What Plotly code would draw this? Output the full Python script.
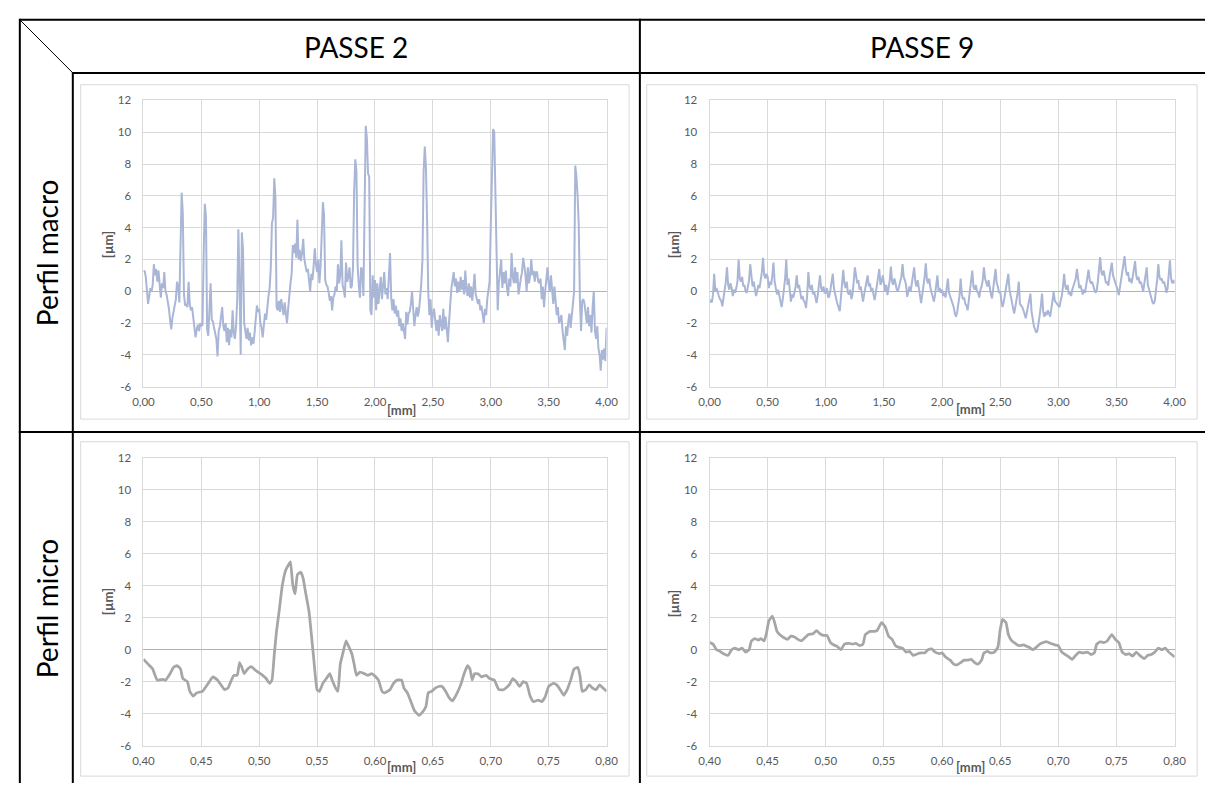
import plotly.graph_objects as go

W, H = 1217, 789

# ---------------- data ----------------
macro_x = [round(i * 0.01, 2) for i in range(401)]

passe2_macro = [
    1.2, 1.3, 0.9, -0.2, -0.8, -0.3, 0.2, 0.0, 0.4, 1.7,
    1.0, 1.4, 0.6, 1.3, 0.3, -0.4, 0.5, 0.2, 1.2, 0.0,
    -0.2, -0.6, -1.1, -1.8, -2.4, -1.7, -1.3, -1.0, -0.5, 0.6,
    0.3, -0.7, 3.4, 6.2, 4.9, -0.2, -0.9, -0.8, -1.0, 0.6,
    -0.8, -1.2, -1.0, -1.6, -2.4, -2.9, -2.4, -2.1, -2.5, -2.0,
    -2.2, -2.1, 2.3, 5.5, 4.7, -2.4, -2.8, -1.5, 0.5, -1.8,
    -1.9, -2.3, -2.8, -3.0, -4.1, -2.5, -2.2, -1.6, -1.0, -2.2,
    -2.5, -2.0, -3.2, -2.3, -3.4, -2.4, -2.9, -1.2, -2.6, -3.0,
    -2.2, -0.5, 3.9, 0.5, -4.0, 3.7, 2.6, -2.0, -2.4, -3.0,
    -2.3, -3.1, -2.6, -3.4, -2.9, -3.3, -2.6, -1.4, -0.9, -1.3,
    -1.1, -2.0, -2.3, -2.9, -2.0, -1.4, -1.8, -0.8, -0.3, 0.2,
    1.5, 4.3, 4.6, 7.1, 5.9, -1.0, -1.2, -0.6, -1.3, -0.5,
    -1.0, -1.5, -0.7, -1.4, -2.0, -1.1, -0.1, 0.5, 1.1, 2.9,
    2.4, 3.0, 2.1, 4.5, 2.0, 2.6, 1.9, 2.4, 3.3, 2.0,
    1.6, 1.2, 1.4, 0.4, 0.0, 1.1, 0.7, 1.6, 2.7, 1.7,
    1.2, 2.0, 0.5, 1.6, 3.8, 5.6, 4.8, 0.7, 0.4, 0.3,
    -0.1, -0.6, -0.3, -1.2, -0.4, -0.2, 0.3, 0.0, 1.7, 0.5,
    1.0, 3.2, 0.4, 0.1, -0.4, 1.8, 0.6, 0.9, 1.5, 0.2,
    0.3, 1.5, 6.3, 8.3, 7.5, 1.6, 0.4, -0.4, 1.5, 1.3,
    -0.3, 6.5, 10.4, 9.6, 7.4, 7.2, -1.2, -1.5, 1.0, -0.4,
    0.7, -1.2, 0.5, -0.8, 0.4, 0.9, -0.5, 0.3, 1.2, -0.2,
    0.2, -0.5, 1.5, 2.4, -0.4, -1.2, -0.5, -1.4, -0.9, -1.6,
    -1.2, -2.2, -1.7, -2.5, -2.0, -2.6, -3.0, -1.3, -2.1, -1.4,
    -1.3, -0.8, 0.0, -1.1, -2.2, -1.5, -1.0, -1.6, -1.2, -0.4,
    0.5, 2.0, 7.5, 9.1, 7.8, 4.5, 0.0, -1.5, -0.5, -2.3,
    -1.4, -1.1, -1.9, -2.5, -1.8, -2.8, -1.5, -2.0, -2.5, -1.1,
    -2.4, -1.6, -2.7, -3.2, -1.9, -0.6, 0.2, 0.7, 1.2, 0.3,
    0.8, -0.1, 0.6, 0.0, 0.9, 0.1, 0.7, -0.2, 1.3, 0.1,
    -0.3, 0.5, -0.4, 0.3, -0.6, 0.2, 1.1, -0.2, -0.6, -0.8,
    -0.5, -1.2, -0.9, -1.5, -2.0, -1.1, -1.5, -0.5, 0.2, 0.6,
    4.0, 8.5, 10.2, 10.0, 6.5, 1.0, -1.2, 0.5, 1.5, 2.0,
    0.2, 1.2, 0.5, 1.3, 0.2, -0.3, 0.8, 0.3, 2.4, 0.9,
    0.5, 1.5, 0.5, 1.2, -0.2, 0.5, 0.8, 1.2, 2.1, 1.6,
    1.0, 0.0, 1.5, 0.5, 1.0, 2.0, 1.0, 1.3, 0.6, 1.2,
    1.2, 0.6, 0.5, 0.8, -0.5, 0.3, -1.0, 0.0, 0.6, 1.5,
    0.5, 0.0, 1.0, 0.0, -0.8, 0.3, -1.0, -1.5, -1.0, -2.0,
    -1.8, -1.5, -2.5, -3.0, -3.7, -2.2, -2.8, -1.9, -1.4, -2.3,
    -1.5, -1.2, 0.0, 7.9, 7.2, 6.0, 4.2, -0.5, -2.5, -0.6,
    -0.5, -0.8, -1.5, -2.0, -1.0, -2.2, -1.5, -2.6, -1.0, 0.0,
    -2.5, -3.0, -2.2, -3.6, -4.0, -5.0, -3.7, -4.3, -3.6, -4.4, -2.3,
]

passe9_macro = [
    -0.7, -0.6, -0.7, -0.2, 1.1, 0.0, 0.2, -0.1, -0.3, -0.5,
    -0.6, -0.95, -0.4, 0.0, 0.6, 1.5, 0.4, 0.1, 0.5, 0.2,
    -0.3, 0.1, -0.1, 0.2, 0.6, 2.0, 0.8, 0.6, 0.9, 0.3,
    0.4, 0.0, -0.1, 0.3, 0.7, 1.7, 0.8, 0.3, 0.6, 0.1,
    -0.3, 0.0, 0.4, 0.2, 0.6, 1.2, 2.1, 1.0, 0.8, 1.1,
    0.9, 0.2, 0.6, 0.4, 1.0, 1.8, 0.6, 0.2, -0.2, 0.1,
    -0.3, -0.6, -1.0, -0.5, 0.2, 0.8, 2.0, 0.4, 0.8, 0.0,
    -0.65, -0.2, -0.4, -0.1, 0.3, 1.0, 0.2, 0.4, -0.1, -0.5,
    -0.3, -0.6, -0.7, -1.05, -0.2, 1.2, 0.3, 0.1, 0.4, -0.2,
    0.0, -0.4, -0.75, -0.3, 0.2, 1.0, 0.2, 0.0, 0.3, -0.1,
    -0.1, 0.2, -0.4, -0.3, 0.1, 0.6, 1.1, 0.2, -0.3, -0.5,
    -0.8, -1.0, -1.25, -0.4, 0.5, 1.35, 0.5, 0.2, 0.6, -0.1,
    -0.2, 0.1, -0.5, -0.2, 0.6, 1.5, 1.0, 0.5, 0.7, 0.1,
    0.3, -0.3, -0.65, -0.2, 0.3, 0.6, 1.0, 0.3, 0.5, 0.0,
    0.2, -0.2, -0.55, -0.1, 0.5, 0.8, 1.4, 0.4, 0.6, 1.0,
    0.3, 0.0, 0.4, -0.25, 0.2, 0.7, 1.55, 0.6, 0.4, 0.8,
    0.5, 0.1, 0.0, 0.3, 0.5, 0.9, 1.7, 0.9, 0.7, 0.4,
    -0.35, 0.1, 0.3, 0.0, 0.5, 0.9, 1.5, 0.6, 0.3, 0.7,
    0.2, -0.3, -0.75, -0.2, 0.3, 0.9, 1.75, 0.7, 0.5, 0.8,
    0.2, -0.1, -0.3, -0.65, -0.2, 0.4, 1.0, 0.0, 0.2, -0.1,
    0.1, -0.3, -0.1, -0.4, 0.2, 0.8, -0.1, -0.3, -0.6, -0.7,
    -1.0, -1.4, -1.6, -1.3, -0.9, -0.3, 0.8, -0.2, -0.5, -0.4,
    -0.8, -0.9, -1.2, -0.6, -0.2, 0.5, 1.3, 0.3, 0.1, 0.4,
    0.0, -0.1, -0.4, 0.1, 0.3, 0.7, 1.5, 0.8, 0.6, 0.3,
    0.7, 0.2, -0.2, -0.45, 0.1, 0.6, 1.4, 0.5, 0.3, -0.1,
    0.0, -0.6, -1.0, -0.7, -0.3, 0.2, 0.5, 1.1, 0.1, -0.3,
    -0.5, -0.9, -1.4, -1.0, -0.6, -0.1, 0.6, -0.8, -0.9, -1.0,
    -1.2, -1.5, -1.7, -1.3, -0.9, -0.6, -0.15, -1.3, -1.9, -2.2,
    -2.4, -2.6, -2.5, -2.1, -1.5, -0.9, -0.15, -1.3, -1.6, -1.3,
    -1.5, -1.2, -1.4, -1.6, -1.1, -0.5, -0.05, -0.6, -0.7, -0.8,
    -0.9, -1.0, -0.6, -0.3, 0.3, 1.1, 0.3, 0.1, 0.4, -0.2,
    0.0, -0.3, 0.1, 0.3, 0.6, 0.8, 1.4, 0.6, 0.2, 0.4,
    0.0, -0.2, 0.1, -0.1, 0.4, 0.8, 1.35, 0.7, 0.5, 0.6,
    0.3, 0.1, -0.1, 0.05, 0.6, 1.2, 2.15, 1.2, 1.0, 1.3,
    0.8, 0.5, 0.6, 0.35, 0.9, 1.3, 1.8, 1.0, 0.8, 0.6,
    0.3, 0.1, -0.25, 0.3, 0.8, 1.2, 1.6, 2.2, 1.4, 1.0,
    1.2, 0.6, 0.8, 0.5, 0.9, 1.3, 1.9, 1.0, 0.7, 0.9,
    0.5, 0.6, 0.2, 0.0, 0.5, 1.0, 1.5, 0.4, 0.1, -0.2,
    -0.5, -0.7, -0.8, -0.6, 0.1, 0.7, 1.7, 0.9, 0.7, 0.8,
    0.5, 0.6, 0.3, -0.1, 0.2, 0.9, 1.95, 0.8, 0.5, 0.7, 0.5,
]

passe2_micro_x = [
    0.400, 0.404, 0.408, 0.410, 0.412, 0.417, 0.419, 0.423, 0.426, 0.429,
    0.432, 0.434, 0.438, 0.440, 0.443, 0.446, 0.451, 0.456, 0.460, 0.464,
    0.466, 0.470, 0.473, 0.476, 0.478, 0.481, 0.483, 0.485, 0.487, 0.490,
    0.493, 0.497, 0.500, 0.503, 0.506, 0.509, 0.511, 0.513, 0.515, 0.517,
    0.520, 0.523, 0.526, 0.527, 0.529, 0.531, 0.533, 0.536, 0.538, 0.540,
    0.543, 0.545, 0.547, 0.550, 0.552, 0.555, 0.558, 0.561, 0.563, 0.566,
    0.568, 0.570, 0.572, 0.575, 0.577, 0.580, 0.582, 0.584, 0.587, 0.591,
    0.594, 0.597, 0.600, 0.603, 0.606, 0.608, 0.613, 0.616, 0.619, 0.623,
    0.625, 0.628, 0.631, 0.634, 0.638, 0.641, 0.644, 0.646, 0.649, 0.652,
    0.655, 0.658, 0.661, 0.664, 0.667, 0.671, 0.674, 0.677, 0.680, 0.682,
    0.684, 0.686, 0.689, 0.692, 0.696, 0.699, 0.703, 0.707, 0.711, 0.716,
    0.719, 0.722, 0.725, 0.728, 0.731, 0.734, 0.737, 0.741, 0.744, 0.747,
    0.750, 0.754, 0.757, 0.760, 0.763, 0.766, 0.769, 0.772, 0.775, 0.777,
    0.779, 0.782, 0.785, 0.788, 0.791, 0.794, 0.797, 0.800,
]
passe2_micro = [
    -0.6, -0.9, -1.2, -1.6, -1.9, -1.85, -1.9, -1.5, -1.1, -1.0,
    -1.2, -1.8, -2.0, -2.6, -2.9, -2.7, -2.6, -2.1, -1.7, -1.9,
    -2.1, -2.5, -2.4, -1.9, -1.6, -1.6, -0.8, -1.1, -1.5, -1.2,
    -1.05, -1.3, -1.45, -1.6, -1.8, -2.1, -1.9, -0.3, 1.2, 2.3,
    4.05, 5.0, 5.4, 5.5, 4.05, 3.5, 4.7, 4.85, 4.45, 3.6,
    2.4, 1.0, -0.5, -2.5, -2.6, -2.1, -1.8, -1.5, -1.9, -2.4,
    -2.6, -0.9, -0.3, 0.55, 0.25, -0.25, -0.9, -1.6, -1.4, -1.5,
    -1.6, -1.5, -1.65, -1.9, -2.6, -2.7, -2.5, -2.1, -1.9, -1.9,
    -2.4, -2.7, -3.25, -3.8, -4.1, -3.9, -3.55, -2.7, -2.6, -2.4,
    -2.3, -2.3, -2.6, -3.0, -3.2, -2.7, -2.2, -1.5, -1.0, -1.2,
    -1.9, -1.5, -1.5, -1.7, -1.6, -1.8, -1.9, -2.5, -2.5, -2.2,
    -1.8, -2.0, -2.3, -2.0, -2.1, -2.9, -3.25, -3.15, -3.25, -2.95,
    -2.3, -2.1, -2.2, -2.5, -2.85, -2.5, -1.9, -1.2, -1.1, -1.6,
    -2.6, -2.5, -2.2, -2.4, -2.5, -2.2, -2.4, -2.6,
]

passe9_micro_x = [
    0.400, 0.403, 0.406, 0.409, 0.412, 0.416, 0.419, 0.422, 0.425, 0.428,
    0.431, 0.434, 0.436, 0.439, 0.442, 0.444, 0.447, 0.449, 0.451, 0.454,
    0.456, 0.458, 0.461, 0.464, 0.467, 0.470, 0.473, 0.476, 0.479, 0.482,
    0.485, 0.489, 0.492, 0.495, 0.498, 0.501, 0.504, 0.507, 0.510, 0.513,
    0.516, 0.520, 0.523, 0.526, 0.529, 0.532, 0.534, 0.538, 0.541, 0.544,
    0.548, 0.551, 0.554, 0.557, 0.560, 0.563, 0.566, 0.569, 0.572, 0.575,
    0.579, 0.582, 0.585, 0.588, 0.591, 0.594, 0.598, 0.600, 0.603, 0.607,
    0.610, 0.613, 0.616, 0.619, 0.622, 0.625, 0.628, 0.631, 0.634, 0.636,
    0.639, 0.642, 0.645, 0.648, 0.650, 0.652, 0.655, 0.657, 0.660, 0.663,
    0.666, 0.670, 0.673, 0.675, 0.678, 0.681, 0.684, 0.687, 0.690, 0.693,
    0.697, 0.700, 0.703, 0.706, 0.709, 0.712, 0.715, 0.718, 0.721, 0.725,
    0.728, 0.731, 0.733, 0.736, 0.739, 0.742, 0.746, 0.749, 0.752, 0.755,
    0.758, 0.761, 0.764, 0.767, 0.770, 0.774, 0.777, 0.780, 0.783, 0.786,
    0.789, 0.792, 0.795, 0.800,
]
passe9_micro = [
    0.45, 0.35, 0.0, -0.1, -0.25, -0.35, 0.0, 0.1, 0.0, 0.1,
    -0.15, 0.0, 0.55, 0.7, 0.6, 0.7, 0.55, 1.05, 1.8, 2.1,
    1.7, 1.15, 0.9, 0.75, 0.65, 0.85, 0.8, 0.65, 0.55, 0.75,
    0.95, 1.0, 1.2, 1.0, 0.9, 0.9, 0.45, 0.3, 0.2, 0.0,
    0.35, 0.4, 0.35, 0.4, 0.25, 0.35, 0.95, 1.15, 1.15, 1.2,
    1.7, 1.45, 0.85, 0.65, 0.25, 0.15, 0.1, -0.15, -0.1, -0.35,
    -0.25, -0.2, -0.2, 0.0, 0.05, -0.15, -0.25, -0.2, -0.45, -0.65,
    -0.9, -0.95, -0.8, -0.65, -0.65, -0.6, -0.8, -0.9, -0.65, -0.2,
    -0.1, -0.2, -0.15, 0.15, 1.25, 1.9, 1.7, 0.95, 0.55, 0.4,
    0.25, 0.3, 0.2, 0.15, 0.0, 0.15, 0.35, 0.45, 0.5, 0.4,
    0.3, 0.25, -0.15, -0.3, -0.45, -0.6, -0.35, -0.15, -0.2, -0.15,
    -0.3, -0.2, 0.35, 0.5, 0.45, 0.55, 0.95, 0.65, 0.45, -0.15,
    -0.3, -0.25, -0.4, -0.15, -0.35, -0.55, -0.35, -0.3, -0.15, 0.1,
    0.0, 0.1, -0.15, -0.45,
]

macro_xticks = [0.0, 0.5, 1.0, 1.5, 2.0, 2.5, 3.0, 3.5, 4.0]
macro_xlabels = ["0,00", "0,50", "1,00", "1,50", "2,00", "2,50", "3,00", "3,50", "4,00"]
micro_xticks = [0.40, 0.45, 0.50, 0.55, 0.60, 0.65, 0.70, 0.75, 0.80]
micro_xlabels = ["0,40", "0,45", "0,50", "0,55", "0,60", "0,65", "0,70", "0,75", "0,80"]
y_ticks = [-6, -4, -2, 0, 2, 4, 6, 8, 10, 12]
y_labels = ["-6", "-4", "-2", "0", "2", "4", "6", "8", "10", "12"]

col_titles = ["PASSE 2", "PASSE 9"]
row_titles = ["Perfil macro", "Perfil micro"]
x_title = "[mm]"
y_title = "[µm]"

# ---------------- helpers (page pixels -> paper fractions) ----------------
def fx(px):
    return px / W

def fy(py):
    return 1 - py / H

MACRO_COLOR = "#aab6d6"
MICRO_COLOR = "#a6a6a6"
TICK_FONT = dict(family="Lato, sans-serif", size=11.5, color="#595959")
TITLE_FONT = dict(family="Lato, sans-serif", size=13, color="#595959")

fig = go.Figure()

fig.add_trace(go.Scatter(x=macro_x, y=passe2_macro, mode="lines",
                         line=dict(color=MACRO_COLOR, width=2), xaxis="x", yaxis="y",
                         showlegend=False, hoverinfo="skip"))
fig.add_trace(go.Scatter(x=macro_x, y=passe9_macro, mode="lines",
                         line=dict(color=MACRO_COLOR, width=2), xaxis="x2", yaxis="y2",
                         showlegend=False, hoverinfo="skip"))
fig.add_trace(go.Scatter(x=passe2_micro_x, y=passe2_micro, mode="lines",
                         line=dict(color=MICRO_COLOR, width=2.75, shape="spline", smoothing=0.4),
                         xaxis="x3", yaxis="y3", showlegend=False, hoverinfo="skip"))
fig.add_trace(go.Scatter(x=passe9_micro_x, y=passe9_micro, mode="lines",
                         line=dict(color=MICRO_COLOR, width=2.75, shape="spline", smoothing=0.4),
                         xaxis="x4", yaxis="y4", showlegend=False, hoverinfo="skip"))

common = dict(showgrid=True, gridcolor="#d9d9d9", gridwidth=1,
              showline=True, linecolor="#d9d9d9", linewidth=1, mirror=True,
              ticks="", tickfont=TICK_FONT, fixedrange=True)

def xax(dom, rng, vals, labels, anchor):
    return dict(common, domain=[fx(dom[0]), fx(dom[1])], range=rng, tickmode="array",
                tickvals=vals, ticktext=labels, zeroline=False, anchor=anchor,
                ticklabelstandoff=5)

def yax(dom, anchor):
    return dict(common, domain=[fy(dom[1]), fy(dom[0])], range=[-6, 12], tickmode="array",
                tickvals=y_ticks, ticktext=y_labels, zeroline=True,
                zerolinecolor="#b3b3b3", zerolinewidth=1, anchor=anchor,
                ticklabelstandoff=9)

LEFT_X = (135, 607)
RIGHT_X = (712, 1186)
TOP_Y = (95, 386)
BOT_Y = (458.5, 751)

fig.update_layout(
    width=W, height=H, autosize=False,
    margin=dict(l=0, r=0, t=0, b=0, pad=0),
    paper_bgcolor="white", plot_bgcolor="white",
    xaxis=xax(LEFT_X, [0, 4], macro_xticks, macro_xlabels, "y"),
    yaxis=yax(TOP_Y, "x"),
    xaxis2=xax(RIGHT_X, [0, 4], macro_xticks, macro_xlabels, "y2"),
    yaxis2=yax(TOP_Y, "x2"),
    xaxis3=xax(LEFT_X, [0.4, 0.8], micro_xticks, micro_xlabels, "y3"),
    yaxis3=yax(BOT_Y, "x3"),
    xaxis4=xax(RIGHT_X, [0.4, 0.8], micro_xticks, micro_xlabels, "y4"),
    yaxis4=yax(BOT_Y, "x4"),
)

shapes = []
# Excel chart-area frames
for (x0, x1) in [(71, 630), (648, 1209)]:
    for (y0, y1) in [(79, 419), (442, 782)]:
        shapes.append(dict(type="rect", xref="paper", yref="paper",
                           x0=fx(x0), x1=fx(x1), y0=fy(y1), y1=fy(y0),
                           line=dict(color="#d9d9d9", width=1), fillcolor="rgba(0,0,0,0)",
                           layer="below"))

def seg(x0, y0, x1, y1, w=2):
    return dict(type="line", xref="paper", yref="paper",
                x0=fx(x0), y0=fy(y0), x1=fx(x1), y1=fy(y1),
                line=dict(color="black", width=w))

shapes += [
    seg(9, 13, 1217, 13),        # top border
    seg(9, 12, 9, 789),          # left border
    seg(63, 67, 1217, 67),       # header bottom
    seg(63, 66, 63, 789),        # row label column
    seg(641, 12, 641, 789),      # column divider
    seg(8, 432, 1217, 432),      # row divider
    seg(9, 13, 63, 67, w=1),     # diagonal
]
fig.update_layout(shapes=shapes)

ann = []
def text(x, y, t, font, angle=0):
    ann.append(dict(xref="paper", yref="paper", x=fx(x), y=fy(y), text=t,
                    showarrow=False, font=font, textangle=angle,
                    xanchor="center", yanchor="middle"))

HEAD_FONT = dict(family="Lato, sans-serif", size=28, color="black")
text(352, 41, col_titles[0], HEAD_FONT)
text(929, 41, col_titles[1], HEAD_FONT)
text(37, 250, row_titles[0], HEAD_FONT, -90)
text(37, 612, row_titles[1], HEAD_FONT, -90)

BOLD_TITLE = "<b>%s</b>"
for (mx, my, ux, uy) in [(398, 410, 99, 242), (978, 409, 676, 242),
                         (398, 773, 99, 605), (978, 773, 676, 607)]:
    text(mx, my, BOLD_TITLE % x_title, TITLE_FONT)
    text(ux, uy, BOLD_TITLE % y_title, TITLE_FONT, -90)

fig.update_layout(annotations=ann)

fig.write_html("out.html", config={"displayModeBar": False, "staticPlot": True})
